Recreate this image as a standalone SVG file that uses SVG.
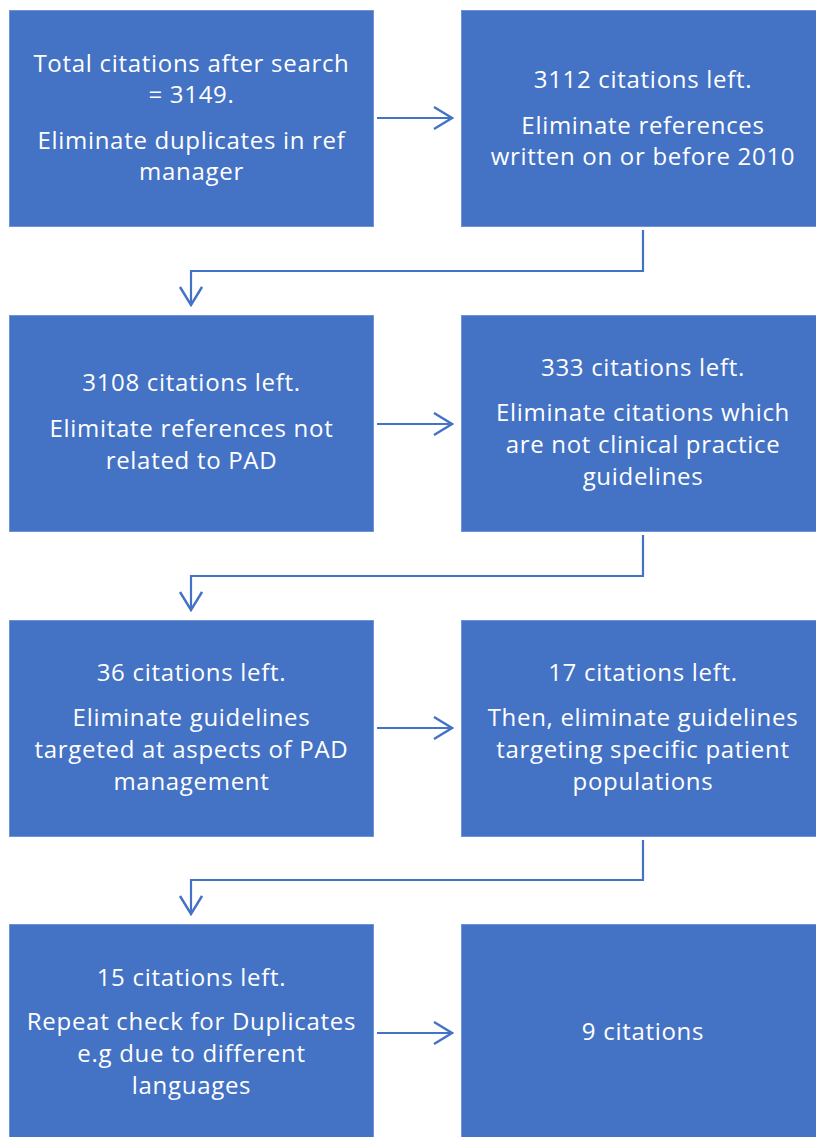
<svg xmlns="http://www.w3.org/2000/svg" width="816" height="1137" viewBox="0 0 816 1137">
<style>
.box{fill:#4472C4;stroke:#6F93D3;stroke-width:1}
.t{font-family:"Open Sans","Liberation Sans",Arial,sans-serif;font-size:24px;letter-spacing:0.7px;fill:#FFFFFF;text-anchor:middle}
.c{fill:none;stroke:#4472C4;stroke-width:2.2}
</style>
<defs>
<marker id="ah" markerWidth="21" markerHeight="25" refX="19" refY="12" orient="auto" markerUnits="userSpaceOnUse">
<path d="M1,1 L19,12 L1,23" fill="none" stroke="#4472C4" stroke-width="2.4"/>
</marker>
</defs>
<rect width="816" height="1137" fill="#FFFFFF"/>
<g id="n1"><rect class="box" x="9.5" y="10.5" width="364" height="216"/>
<text class="t"><tspan x="191.5" y="72">Total citations after search</tspan><tspan x="191.5" y="103">= 3149.</tspan><tspan x="191.5" y="149">Eliminate duplicates in ref</tspan><tspan x="191.5" y="180">manager</tspan></text></g>
<g id="n2"><rect class="box" x="461.5" y="10.5" width="364" height="216"/>
<text class="t"><tspan x="643" y="88">3112 citations left.</tspan><tspan x="643" y="134">Eliminate references</tspan><tspan x="643" y="165">written on or before 2010</tspan></text></g>
<g id="n3"><rect class="box" x="9.5" y="315.5" width="364" height="216"/>
<text class="t"><tspan x="191.5" y="391">3108 citations left.</tspan><tspan x="191.5" y="437">Elimitate references not</tspan><tspan x="191.5" y="469">related to PAD</tspan></text></g>
<g id="n4"><rect class="box" x="461.5" y="315.5" width="364" height="216"/>
<text class="t"><tspan x="643" y="376">333 citations left.</tspan><tspan x="643" y="421">Eliminate citations which</tspan><tspan x="643" y="453">are not clinical practice</tspan><tspan x="643" y="485">guidelines</tspan></text></g>
<g id="n5"><rect class="box" x="9.5" y="620.5" width="364" height="216"/>
<text class="t"><tspan x="191.5" y="681">36 citations left.</tspan><tspan x="191.5" y="726">Eliminate guidelines</tspan><tspan x="191.5" y="758">targeted at aspects of PAD</tspan><tspan x="191.5" y="790">management</tspan></text></g>
<g id="n6"><rect class="box" x="461.5" y="620.5" width="364" height="216"/>
<text class="t"><tspan x="643" y="681">17 citations left.</tspan><tspan x="643" y="726">Then, eliminate guidelines</tspan><tspan x="643" y="758">targeting specific patient</tspan><tspan x="643" y="790">populations</tspan></text></g>
<g id="n7"><rect class="box" x="9.5" y="924.5" width="364" height="216"/>
<text class="t"><tspan x="191.5" y="986">15 citations left.</tspan><tspan x="191.5" y="1030">Repeat check for Duplicates</tspan><tspan x="191.5" y="1062">e.g due to different</tspan><tspan x="191.5" y="1094">languages</tspan></text></g>
<g id="n8"><rect class="box" x="461.5" y="924.5" width="364" height="216"/>
<text class="t"><tspan x="643" y="1040">9 citations</tspan></text></g>
<g id="connectors">
<path class="c" d="M377,118 H452" marker-end="url(#ah)"/>
<path class="c" d="M377,424 H452" marker-end="url(#ah)"/>
<path class="c" d="M377,728 H452" marker-end="url(#ah)"/>
<path class="c" d="M377,1033 H452" marker-end="url(#ah)"/>
<path class="c" d="M643,230 V271 H191 V305" marker-end="url(#ah)"/>
<path class="c" d="M643,535 V576 H191 V610" marker-end="url(#ah)"/>
<path class="c" d="M643,840 V880 H191 V914" marker-end="url(#ah)"/>
</g>
</svg>
